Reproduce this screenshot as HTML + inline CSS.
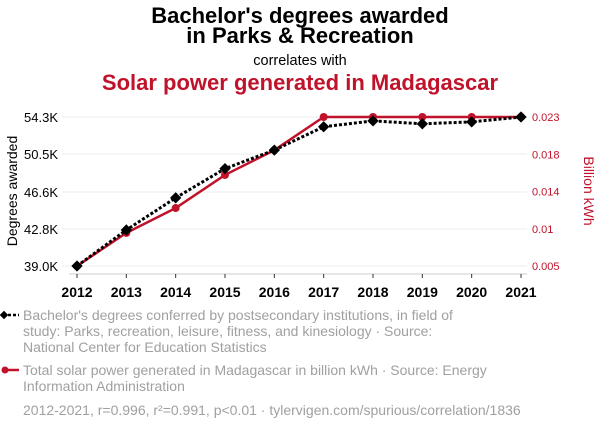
<!DOCTYPE html>
<html><head><meta charset="utf-8"><style>
body{margin:0;background:#fff;width:600px;height:430px;overflow:hidden;font-family:"Liberation Sans",Arial,sans-serif}
svg text{font-family:"Liberation Sans",Arial,sans-serif}
</style></head><body>
<svg id="c" width="600" height="430">
<text x="300" y="23" text-anchor="middle" font-size="22" font-weight="bold">Bachelor's degrees awarded</text>
<text x="300" y="43" text-anchor="middle" font-size="22" font-weight="bold">in Parks &amp; Recreation</text>
<text x="300" y="65" text-anchor="middle" font-size="14.5">correlates with</text>
<text x="300" y="90" text-anchor="middle" font-size="22" font-weight="bold" fill="#c0122a">Solar power generated in Madagascar</text>
<text transform="translate(17,191) rotate(-90)" text-anchor="middle" font-size="14">Degrees awarded</text>
<text transform="translate(584,191) rotate(90)" text-anchor="middle" font-size="14" fill="#c0122a">Billion kWh</text>
<g id="grid"></g><g id="axes"></g><g id="series"></g>
<g font-size="14" fill="#a0a0a0">
<line x1="3" y1="315" x2="19" y2="315" stroke="#000" stroke-width="2.5" stroke-dasharray="3,2"/>
<rect x="1" y="312" width="6" height="6" transform="rotate(45 4 315)" fill="#000"/>
<text x="23" y="320"><tspan x="23">Bachelor's degrees conferred by postsecondary institutions, in field of</tspan><tspan x="23" dy="16">study: Parks, recreation, leisure, fitness, and kinesiology · Source:</tspan><tspan x="23" dy="16">National Center for Education Statistics</tspan></text>
<line x1="3" y1="370" x2="19" y2="370" stroke="#c0122a" stroke-width="2.5"/>
<circle cx="5" cy="370" r="3.5" fill="#c0122a"/>
<text x="23" y="375"><tspan x="23">Total solar power generated in Madagascar in billion kWh · Source: Energy</tspan><tspan x="23" dy="16">Information Administration</tspan></text>
<text x="23" y="415">2012-2021, r=0.996, r²=0.991, p&lt;0.01 · tylervigen.com/spurious/correlation/1836</text>
</g>
</svg>
<script>
const years=[2012,2013,2014,2015,2016,2017,2018,2019,2020,2021];
const degrees=[39.0,42.7,46.0,49.0,50.9,53.3,53.9,53.6,53.8,54.3];
const solar=[0.005,0.009,0.012,0.016,0.019,0.023,0.023,0.023,0.023,0.023];
const leftTicks=[39.0,42.8,46.6,50.5,54.3];
const leftTickLabels=["39.0K","42.8K","46.6K","50.5K","54.3K"];
const rightTicks=[0.005,0.0095,0.014,0.0185,0.023];
const rightTickLabels=["0.005","0.01","0.014","0.018","0.023"];
const NS="http://www.w3.org/2000/svg";
const X=y=>77+(y-2012)*(521-77)/9;
const YL=v=>266-(v-39.0)*(266-117)/(54.3-39.0);
const YR=v=>266-(v-0.005)*(266-117)/(0.023-0.005);
function mk(p,t,a){const e=document.createElementNS(NS,t);for(const k in a)e.setAttribute(k,a[k]);p.appendChild(e);return e;}
const grid=document.getElementById('grid'),axes=document.getElementById('axes'),ser=document.getElementById('series');
leftTicks.forEach((v,i)=>{
 const g=mk(grid,'line',{x1:62,x2:527,y1:YL(v),y2:YL(v),stroke:'#eee','stroke-width':1});
 
 
 const t=mk(axes,'text',{x:58,y:YL(v)+5,'text-anchor':'end','font-size':13});
 t.textContent=leftTickLabels[i];
 
 
});
rightTicks.forEach((v,i)=>{
 const t=mk(axes,'text',{x:532,y:YR(v)+4,'font-size':11,fill:'#c0122a'});
 t.textContent=rightTickLabels[i];
 
 
});
const ax=mk(axes,'line',{x1:69,x2:527,y1:274,y2:274,stroke:'#ccc','stroke-width':1});


years.forEach(y=>{
 mk(axes,'line',{x1:X(y),x2:X(y),y1:274,y2:278,stroke:'#333'});
 const t=mk(axes,'text',{x:X(y),y:297,'text-anchor':'middle','font-size':14,'font-weight':'bold'});
 t.textContent=y;
 
 
});
const rl=mk(ser,'polyline',{points:years.map((y,i)=>X(y)+','+YR(solar[i])).join(' '),fill:'none',stroke:'#c0122a','stroke-width':2.5});


years.forEach((y,i)=>{
 const c=mk(ser,'circle',{cx:X(y),cy:YR(solar[i]),r:4,fill:'#c0122a'});
 
 
});
const bl=mk(ser,'polyline',{points:years.map((y,i)=>X(y)+','+YL(degrees[i])).join(' '),fill:'none',stroke:'#000','stroke-width':3,'stroke-dasharray':'3,2'});


years.forEach((y,i)=>{
 const x=X(y),yy=YL(degrees[i]);
 const d=mk(ser,'rect',{x:x-4,y:yy-4,width:8,height:8,fill:'#000',transform:`rotate(45 ${x} ${yy})`});
 
 
});
</script>
</body></html>
